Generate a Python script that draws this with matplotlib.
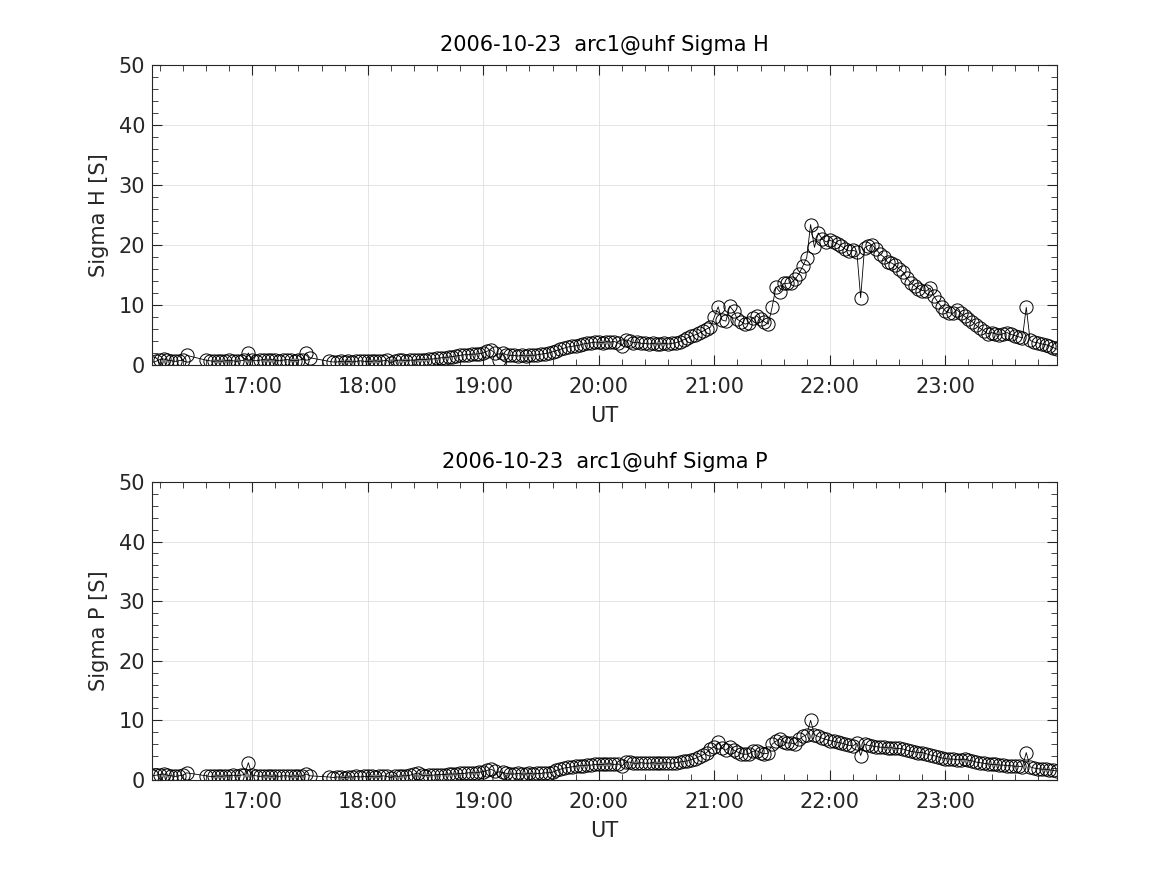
import numpy as np
import matplotlib
matplotlib.use("Agg")
import matplotlib.pyplot as plt
from matplotlib.ticker import MultipleLocator, FuncFormatter

date_str = "2006-10-23"
site = "arc1@uhf"
# recorded time segments (start, end), sampled every 2 min
segments = [("16:08", "16:26"), ("16:36", "17:30"), ("17:40", "23:58")]
step_min = 2

sigma_h = [
    # 16:08-16:26
    0.4, 0.6, 0.9, 1.0, 0.8, 0.7, 0.6, 0.7, 0.8, 1.6,
    # 16:36-17:30
    0.8, 0.7, 0.6, 0.7, 0.6, 0.7, 0.8, 0.7, 0.6, 0.7, 0.8, 2.0,
    0.8, 0.7, 0.8, 0.9, 0.8, 0.9, 0.8, 0.7, 0.8, 0.9, 0.8, 0.7, 0.8, 0.9, 2.0, 1.2,
    # 17:40-17:58
    0.6, 0.5, 0.5, 0.6, 0.5, 0.6, 0.5, 0.6, 0.7, 0.6,
    # 18:00-18:58
    0.6, 0.6, 0.7, 0.6, 0.7, 0.8, 0.3, 0.7, 0.8, 0.8, 0.7, 0.8, 0.8, 0.9, 0.9,
    0.9, 1.0, 1.0, 1.1, 1.2, 1.2, 1.3, 1.4, 1.5, 1.6, 1.7, 1.7, 1.8, 1.8, 1.9,
    # 19:00-19:58
    2.0, 2.3, 2.5, 2.0, 0.9, 2.0, 1.7, 1.6, 1.6, 1.5, 1.6, 1.5, 1.6, 1.6, 1.7,
    1.8, 1.9, 2.0, 2.2, 2.4, 2.6, 2.8, 3.0, 3.1, 3.2, 3.3, 3.5, 3.6, 3.7, 3.8,
    # 20:00-20:58
    3.8, 3.7, 3.9, 3.8, 3.9, 3.7, 3.2, 4.2, 4.0, 3.7, 3.8, 3.6, 3.6, 3.5, 3.6,
    3.5, 3.5, 3.6, 3.5, 3.6, 3.7, 3.9, 4.2, 4.5, 4.8, 5.0, 5.3, 5.6, 6.0, 6.3,
    # 21:00-21:58
    8.0, 9.7, 7.5, 7.3, 9.8, 9.0, 7.6, 7.2, 6.8, 7.0, 7.8, 8.2, 7.6, 7.2, 6.8,
    9.6, 13.0, 12.2, 13.6, 13.6, 13.7, 14.3, 15.2, 16.5, 17.9, 23.4, 19.6, 22.0, 21.0, 20.5,
    # 22:00-22:58
    20.8, 20.5, 20.2, 19.8, 19.3, 19.0, 19.1, 18.9, 11.2, 19.5, 19.9, 20.0, 19.3, 18.5, 18.0,
    17.1, 17.0, 16.6, 16.0, 15.5, 14.5, 13.7, 13.2, 12.7, 12.4, 12.3, 12.8, 11.5, 10.5, 9.7,
    # 23:00-23:58
    9.0, 8.7, 8.6, 9.2, 8.6, 8.1, 7.6, 7.2, 6.6, 6.1, 5.7, 5.2, 5.4, 5.2, 5.0,
    5.2, 5.4, 5.1, 4.9, 4.7, 4.5, 9.6, 4.1, 3.8, 3.7, 3.5, 3.4, 3.2, 2.9, 2.6,
]

sigma_p = [
    # 16:08-16:26
    0.7, 0.8, 0.9, 1.0, 0.8, 0.7, 0.6, 0.7, 0.8, 1.2,
    # 16:36-17:30
    0.7, 0.6, 0.6, 0.7, 0.6, 0.7, 0.7, 0.8, 0.7, 0.8, 0.9, 2.9,
    0.8, 0.7, 0.6, 0.7, 0.7, 0.6, 0.7, 0.6, 0.7, 0.7, 0.6, 0.7, 0.6, 0.7, 1.0, 0.7,
    # 17:40-17:58
    0.5, 0.4, 0.5, 0.5, 0.4, 0.5, 0.5, 0.6, 0.5, 0.6,
    # 18:00-18:58
    0.6, 0.6, 0.5, 0.6, 0.7, 0.6, 0.4, 0.7, 0.6, 0.7, 0.7, 0.8, 1.0, 1.2, 0.8,
    0.7, 0.8, 0.8, 0.9, 0.9, 0.9, 1.0, 1.0, 1.0, 1.1, 1.1, 1.2, 1.2, 1.2, 1.3,
    # 19:00-19:58
    1.4, 1.6, 1.8, 1.5, 0.4, 1.3, 1.1, 1.0, 1.0, 1.1, 1.0, 1.0, 1.1, 1.0, 1.1,
    1.1, 1.2, 1.2, 1.3, 1.6, 1.8, 2.0, 2.1, 2.2, 2.3, 2.4, 2.4, 2.5, 2.5, 2.6,
    # 20:00-20:58
    2.6, 2.6, 2.7, 2.7, 2.6, 2.7, 2.3, 3.0, 3.0, 2.8, 2.8, 2.9, 2.8, 2.8, 2.9,
    2.8, 2.8, 2.9, 2.9, 2.8, 2.9, 3.0, 3.1, 3.2, 3.4, 3.6, 3.9, 4.2, 4.6, 5.2,
    # 21:00-21:58
    5.6, 6.3, 5.3, 5.0, 5.6, 5.0, 4.7, 4.4, 4.3, 4.4, 4.8, 4.9, 4.6, 4.4, 4.5,
    6.0, 6.5, 6.9, 6.4, 6.2, 6.2, 6.0, 6.8, 7.3, 7.6, 10.0, 7.6, 7.3, 7.0, 6.8,
    # 22:00-22:58
    6.6, 6.5, 6.3, 6.2, 6.0, 5.8, 5.7, 6.2, 4.1, 6.0, 5.8, 5.7, 5.6, 5.5, 5.5,
    5.4, 5.4, 5.3, 5.3, 5.2, 5.0, 4.8, 4.7, 4.6, 4.6, 4.4, 4.2, 4.1, 3.9, 3.7,
    # 23:00-23:58
    3.6, 3.5, 3.5, 3.4, 3.4, 3.5, 3.3, 3.2, 3.0, 2.9, 2.8, 2.7, 2.6, 2.6, 2.5,
    2.5, 2.4, 2.4, 2.3, 2.3, 2.2, 4.6, 2.2, 2.0, 1.9, 1.8, 1.8, 1.7, 1.6, 1.5,
]

hour_ticks = [17, 18, 19, 20, 21, 22, 23]
y_ticks = [0, 10, 20, 30, 40, 50]


def to_minutes(s):
    h, m = s.split(":")
    return int(h) * 60 + int(m)


t_hours = np.concatenate([
    np.arange(to_minutes(a), to_minutes(b) + 1, step_min) for a, b in segments
]) / 60.0

assert len(t_hours) == len(sigma_h) == len(sigma_p)

plt.rcParams["font.family"] = ["DejaVu Sans"]
fig = plt.figure(figsize=(11.67, 8.75), dpi=100)
ax1 = fig.add_axes([0.1303, 0.5829, 0.7755, 0.3429])
ax2 = fig.add_axes([0.1303, 0.1086, 0.7755, 0.3406])


def hhmm(x, pos):
    h = int(np.floor(x + 1e-9))
    m = int(round((x - h) * 60))
    return f"{h:02d}:{m:02d}"


for ax, vals, name in [(ax1, sigma_h, "Sigma H"), (ax2, sigma_p, "Sigma P")]:
    ax.plot(t_hours, vals, color="black", lw=0.6, marker="o", ms=9.5,
            mfc="none", mec="black", mew=0.7)
    ax.set_xlim(t_hours[0], t_hours[-1])
    ax.set_ylim(0, 50)
    ax.set_xticks(hour_ticks)
    ax.set_yticks(y_ticks)
    ax.xaxis.set_major_formatter(FuncFormatter(hhmm))
    ax.xaxis.set_minor_locator(MultipleLocator(0.2))
    ax.yaxis.set_minor_locator(MultipleLocator(2))
    ax.tick_params(which="both", direction="in", top=True, right=True,
                   labelsize=15, colors="#262626", labelcolor="#262626")
    ax.tick_params(axis="x", which="major", pad=9)
    ax.tick_params(axis="y", which="major", pad=5)
    ax.tick_params(which="major", length=7, width=0.8)
    ax.tick_params(which="minor", length=4, width=0.6)
    ax.grid(True, which="major", color="#e0e0e0", lw=0.6)
    ax.set_axisbelow(True)
    for sp in ax.spines.values():
        sp.set_color("#262626")
        sp.set_linewidth(0.8)
    ax.set_title(f"{date_str}  {site} {name}", fontsize=15, color="black", pad=10)
    ax.set_ylabel(f"{name} [S]", fontsize=15, color="#262626", labelpad=7)
    ax.set_xlabel("UT", fontsize=15, color="#262626", labelpad=6)

fig.savefig("out.png", dpi=100, facecolor="white")
